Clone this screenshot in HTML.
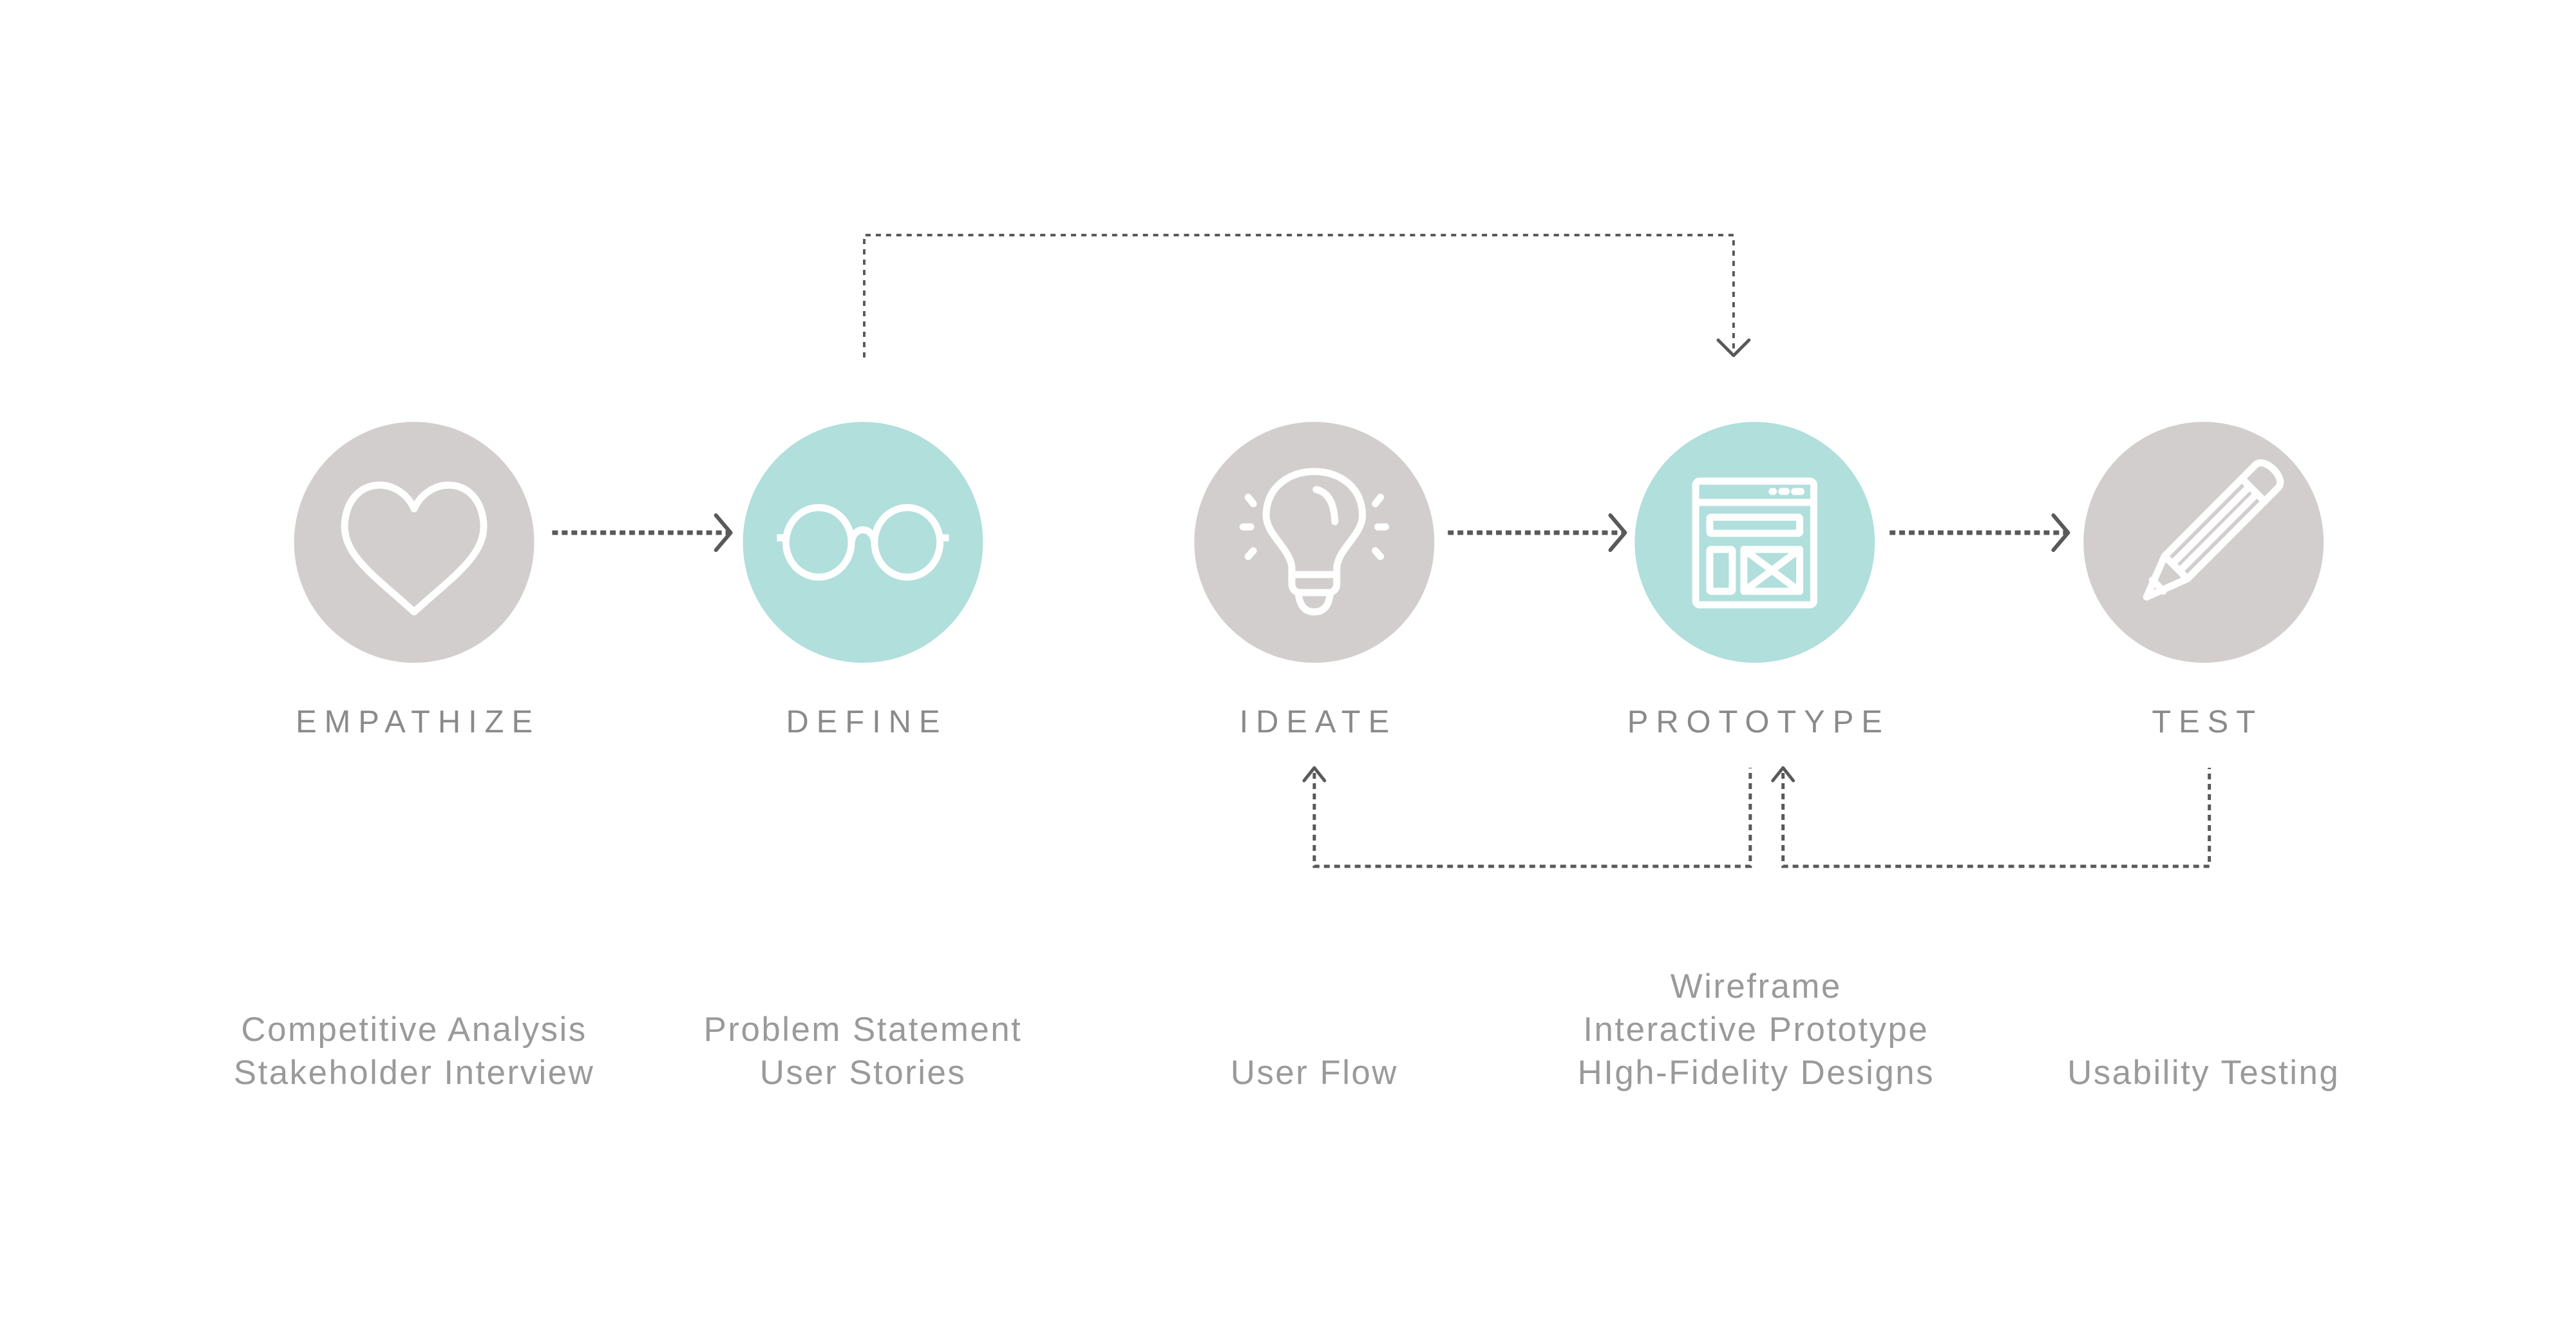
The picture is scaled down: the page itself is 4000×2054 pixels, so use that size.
<!DOCTYPE html>
<html><head><meta charset="utf-8"><style>
html,body{margin:0;padding:0;background:#fff;width:4000px;height:2054px;overflow:hidden}
svg{display:block}
.lbl{font-family:"Liberation Sans",sans-serif;font-size:49px;fill:#8a8a8a;letter-spacing:12px}
.sub{font-family:"Liberation Sans",sans-serif;font-size:53px;fill:#9a9a9a;letter-spacing:2.5px}
</style></head><body>
<svg width="4000" height="2054" viewBox="0 0 4000 2054" xmlns="http://www.w3.org/2000/svg">
<g transform="scale(0.997 1)">
<circle cx="645" cy="842" r="187" fill="#d3cece"/>
<circle cx="1344" cy="842" r="187" fill="#b0dfdc"/>
<circle cx="2047" cy="842" r="187" fill="#d3cece"/>
<circle cx="2733" cy="842" r="187" fill="#b0dfdc"/>
<circle cx="3432" cy="842" r="187" fill="#d3cece"/>

<g fill="none" stroke="#fff" stroke-width="11" stroke-linecap="round" stroke-linejoin="round">
<path d="M645,790 C622,738 545,738 537,810 C532,862 585,895 645,950 C705,895 758,862 753,810 C745,738 668,738 645,790 Z"/>
<ellipse cx="1275" cy="842" rx="51" ry="54"/>
<ellipse cx="1413" cy="842" rx="51" ry="54"/>
<path d="M1326,842 C1329,816 1359,816 1362,842"/>
<path d="M1210,835 L1224,835 M1464,835 L1478,835" stroke-linecap="butt"/>
<!-- bulb -->
<path d="M2012,906 L2012,880 C2008,850 1972,830 1972,800 C1972,758 2006,732 2047,732 C2088,732 2122,758 2122,800 C2122,830 2086,850 2082,880 L2082,906 C2082,914 2078,918 2072,920 C2070,940 2062,950 2047,950 C2032,950 2024,940 2022,920 C2016,918 2012,914 2012,906 Z"/>
<path d="M2014,892 L2080,892 M2022,920 L2072,920"/>
<path d="M2050,760 C2068,764 2078,780 2079,810"/>
<path d="M1944,772 L1952,782 M1936,818 L1948,818 M1944,864 L1952,855 M2150,772 L2142,782 M2158,818 L2146,818 M2150,864 L2142,855"/>
<!-- prototype window -->
<rect x="2641" y="747" width="184" height="192" rx="6"/>
<path d="M2641,780 L2825,780"/>
<path d="M2760,763 L2762,763 M2775,763 L2782,763 M2795,763 L2805,763"/>
<rect x="2663" y="803" width="140" height="25" rx="2"/>
<rect x="2663" y="853" width="35" height="65" rx="2"/>
<rect x="2716" y="853" width="87" height="65" rx="2"/>
<path d="M2716,853 L2803,918 M2803,853 L2716,918"/>
<!-- pencil -->
<g transform="translate(3428,842) rotate(45)">
<path d="M-25,-140 C-25,-160 25,-160 25,-140 L25,60 L0,125 L-25,60 Z" transform="translate(0,-5)"/>
<path d="M-25,-115 L25,-115 M-8,-110 L-8,50 M8,-110 L8,50 M-25,55 L25,55 M-12,95 L12,95"/>
</g>
</g>

<g stroke="#595959" fill="none">
<path d="M860,827 L1135,827" stroke-width="7" stroke-dasharray="9 6"/>
<path d="M1115,800 L1138,827 L1115,854" stroke-width="6" stroke-linecap="round" stroke-linejoin="round"/>
<path d="M2255,827 L2528,827" stroke-width="7" stroke-dasharray="9 6"/>
<path d="M2508,800 L2531,827 L2508,854" stroke-width="6" stroke-linecap="round" stroke-linejoin="round"/>
<path d="M2943,827 L3218,827" stroke-width="7" stroke-dasharray="9 6"/>
<path d="M3198,800 L3221,827 L3198,854" stroke-width="6" stroke-linecap="round" stroke-linejoin="round"/>

<path d="M1346,555 L1346,365 L2700,365 L2700,548" stroke-width="4" stroke-dasharray="8 8"/>
<path d="M2676,528 L2700,552 L2724,528" stroke-width="5" stroke-linecap="round" stroke-linejoin="round"/>

<path d="M2047,1200 L2047,1345 L2726,1345 L2726,1192" stroke-width="5" stroke-dasharray="9 7"/>
<path d="M2031,1212 L2047,1192 L2063,1212" stroke-width="5" stroke-linecap="round" stroke-linejoin="round"/>
<path d="M2777,1200 L2777,1345 L3441,1345 L3441,1192" stroke-width="5" stroke-dasharray="9 7"/>
<path d="M2761,1212 L2777,1192 L2793,1212" stroke-width="5" stroke-linecap="round" stroke-linejoin="round"/>
</g>

<text class="lbl" x="651" y="1137" text-anchor="middle">EMPATHIZE</text>
<text class="lbl" x="1350" y="1137" text-anchor="middle">DEFINE</text>
<text class="lbl" x="2053" y="1137" text-anchor="middle">IDEATE</text>
<text class="lbl" x="2739" y="1137" text-anchor="middle">PROTOTYPE</text>
<text class="lbl" x="3438" y="1137" text-anchor="middle">TEST</text>

<text class="sub" x="645" y="1616" text-anchor="middle">Competitive Analysis</text>
<text class="sub" x="645" y="1683" text-anchor="middle">Stakeholder Interview</text>
<text class="sub" x="1344" y="1616" text-anchor="middle">Problem Statement</text>
<text class="sub" x="1344" y="1683" text-anchor="middle">User Stories</text>
<text class="sub" x="2047" y="1683" text-anchor="middle">User Flow</text>
<text class="sub" x="2735" y="1549" text-anchor="middle">Wireframe</text>
<text class="sub" x="2735" y="1616" text-anchor="middle">Interactive Prototype</text>
<text class="sub" x="2735" y="1683" text-anchor="middle">HIgh-Fidelity Designs</text>
<text class="sub" x="3432" y="1683" text-anchor="middle">Usability Testing</text>
</g>
</svg>
</body></html>
